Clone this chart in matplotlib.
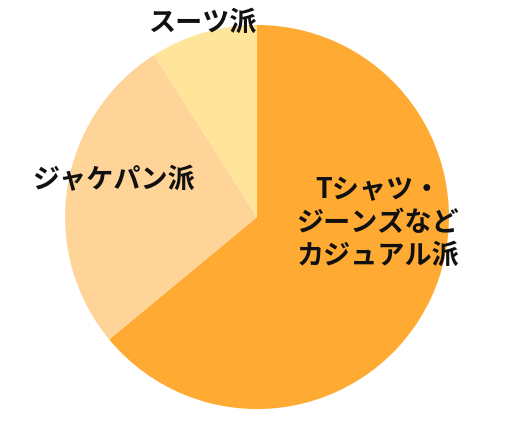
import matplotlib
matplotlib.use('Agg')
import matplotlib.pyplot as plt

plt.rcParams['font.family'] = ['Noto Sans CJK JP', 'DejaVu Sans']

# slices, clockwise from 12 o'clock
labels = ['Tシャツ・\nジーンズなど\nカジュアル派', 'ジャケパン派', 'スーツ派']
shares = [64, 27, 9]
colors = ['#FFAA33', '#FFD499', '#FFE599']

fig = plt.figure(figsize=(5.2, 4.3), dpi=100)
ax = fig.add_axes([0, 0, 1, 1])

ax.pie(shares, colors=colors, startangle=90, counterclock=False,
       radius=1.0, center=(0, 0), wedgeprops=dict(linewidth=0))

ax.set_xlim(-1.339, 1.370)
ax.set_ylim(-1.109, 1.130)
ax.set_aspect('auto')
ax.axis('off')

# labels
ax.text(0.63, -0.031, labels[0], ha='center', va='center', fontsize=19.5,
        fontweight='bold', linespacing=1.2, color='#111111')
ax.text(-1.172, 0.19, labels[1], ha='left', va='center', fontsize=19.5,
        fontweight='bold', color='#111111')
ax.text(0.0, 1.013, labels[2], ha='right', va='center', fontsize=19.5,
        fontweight='bold', color='#111111')

fig.savefig('out.png', dpi=100)
